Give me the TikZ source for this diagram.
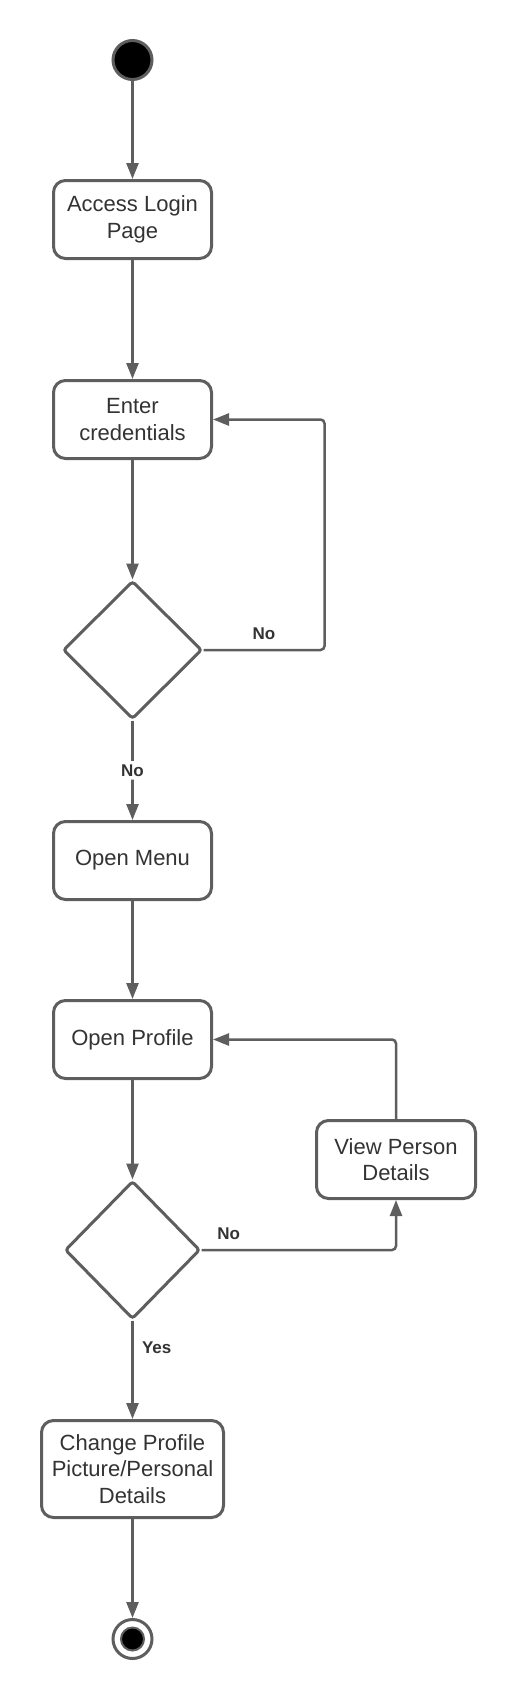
\documentclass[tikz,border=0pt]{standalone}
\usepackage{fontspec}
\setmainfont{Liberation Sans}
\usetikzlibrary{shapes.geometric, arrows.meta, positioning}
\definecolor{linegray}{RGB}{94,94,94}
\definecolor{textgray}{RGB}{51,51,51}
\tikzstyle{activity} = [draw=linegray, fill=white, rectangle, rounded corners=12pt, line width=3pt, minimum width=158pt, minimum height=78pt, align=center, text=textgray, font=\fontsize{22}{26.5}\selectfont]
\tikzstyle{decision} = [draw=linegray, fill=white, diamond, rounded corners=3pt, line width=3pt, minimum width=139pt, minimum height=138pt]
\tikzstyle{startnode} = [draw=linegray, fill=black, circle, line width=3pt, minimum size=39pt, inner sep=0pt]
\tikzstyle{endnode} = [draw=linegray, fill=white, circle, line width=3pt, minimum size=39pt, inner sep=0pt]
\tikzstyle{enddot} = [draw=linegray, fill=black, circle, line width=2pt, minimum size=23pt, inner sep=0pt]
\tikzstyle{flow} = [draw=linegray, line width=2.5pt, ->, rounded corners=4pt]
\tikzstyle{guard} = [text=textgray, font=\bfseries\fontsize{17}{20}\selectfont]

\begin{document}
\begin{tikzpicture}[x=1pt, y=1pt, >={Triangle[length=16pt, width=12pt]}]
    \useasboundingbox (0,0) rectangle (516,-1700);
    \node [startnode] at (132.5,-60) (start) {};
    \node [activity, below of=start, node distance=159.5pt] (access) {Access Login\\Page};
    \node [activity, below of=access, node distance=200pt] (cred) {Enter\\credentials};
    \node [decision, below of=cred, node distance=230.5pt] (dec1) {};
    \node [activity, below of=dec1, node distance=210.5pt] (menu) {Open Menu};
    \node [activity, below of=menu, node distance=179pt] (profile) {Open Profile};
    \node [decision, minimum width=135pt, below of=profile, node distance=210.5pt] (dec2) {};
    \node [activity, minimum width=182pt, minimum height=97pt, below of=dec2, node distance=219pt] (change) {Change Profile\\Picture/Personal\\Details};
    \node [endnode, below of=change, node distance=170pt] (final) {};
    \node [enddot] at (final) (finaldot) {};
    \node [activity, minimum width=159pt] at (396,-1159.5) (view) {View Person\\Details};
    \draw [flow] (start) -- (access);
    \draw [flow] (access) -- (cred);
    \draw [flow] (cred) -- (dec1);
    \draw [flow] (dec1) -- node [guard, fill=white] {No} (menu);
    \draw [flow] (dec1.east) -- node [guard, above=6pt] {No} ++(121,0) |- (cred.east);
    \draw [flow] (menu) -- (profile);
    \draw [flow] (profile) -- (dec2);
    \draw [flow] (dec2.east) -- node [guard, above=6pt, pos=0.14] {No} (dec2.east -| view.south) -- (view.south);
    \draw [flow] (view.north) |- (profile.east);
    \draw [flow] (dec2) -- node [guard, right=5pt, pos=0.28] {Yes} (change);
    \draw [flow] (change) -- (final);
\end{tikzpicture}
\end{document}
